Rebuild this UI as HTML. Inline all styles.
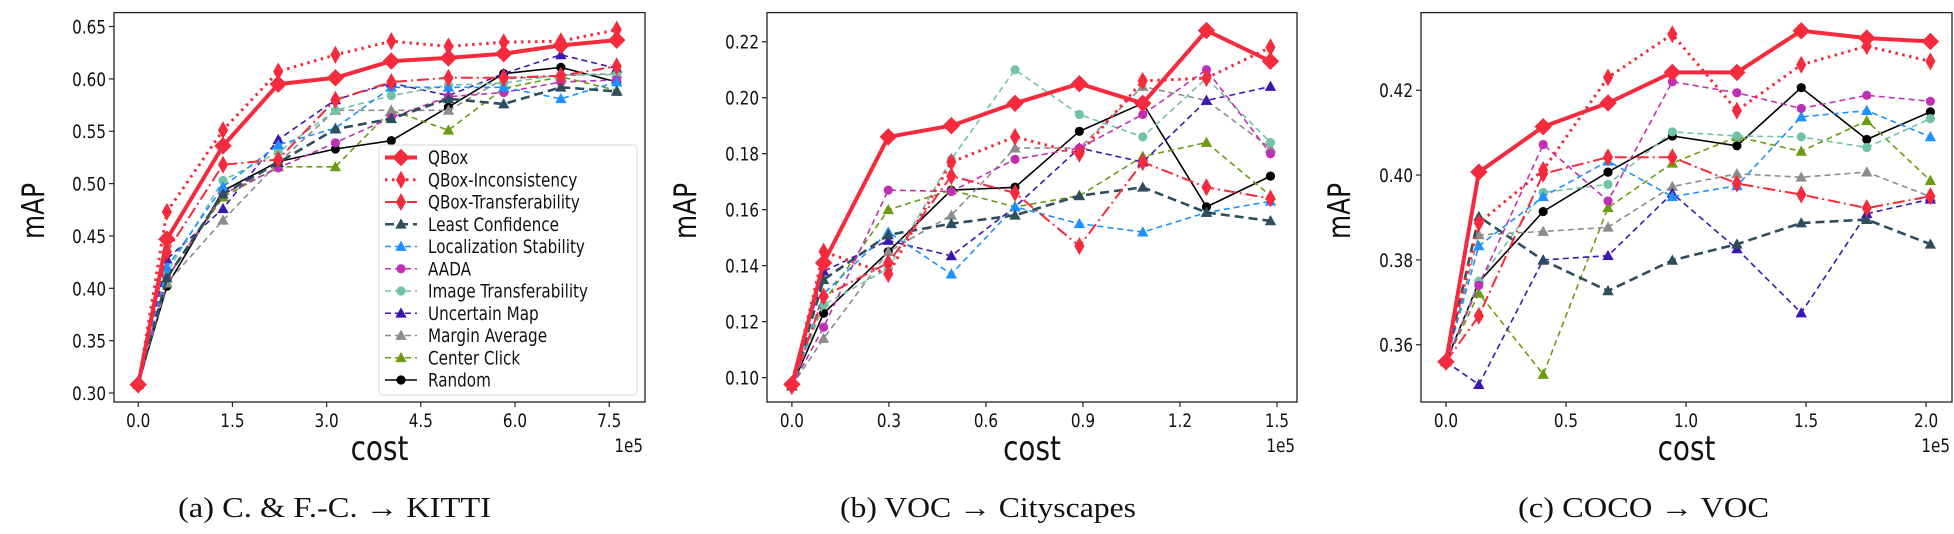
<!DOCTYPE html>
<html><head><meta charset="utf-8"><style>
html,body{margin:0;padding:0;background:#fff;}
svg{display:block;}
</style></head><body>
<svg id="fig" width="1954" height="534" viewBox="0 0 1954 534" xmlns="http://www.w3.org/2000/svg"></svg>
<script>
// ---- data (x in units of 1e5 cost) ----
const kittiX = [0, 0.456, 1.35, 2.23, 3.14, 4.03, 4.94, 5.82, 6.73, 7.62];
const kittiQBox = [0.308,0.447,0.536,0.595,0.601,0.617,0.620,0.624,0.632,0.637];
const kittiInconsistency = [0.308,0.473,0.551,0.607,0.623,0.636,0.631,0.635,0.636,0.647];
const kittiTransferability = [0.308,0.435,0.518,0.523,0.580,0.597,0.601,0.601,0.603,0.612];
const kittiLeastConf = [0.308,0.41,0.49,0.52,0.552,0.562,0.581,0.576,0.592,0.588];
const kittiLocStab = [0.308,0.42,0.497,0.537,0.553,0.592,0.592,0.592,0.581,0.597];
const kittiAADA = [0.308,0.41,0.49,0.515,0.539,0.563,0.583,0.587,0.597,0.599];
const kittiImgTrans = [0.308,0.415,0.503,0.53,0.570,0.584,0.594,0.596,0.604,0.604];
const kittiUncMap = [0.308,0.428,0.476,0.542,0.580,0.596,0.584,0.605,0.623,0.610];
const kittiMargin = [0.308,0.405,0.465,0.52,0.570,0.570,0.570,0.600,0.603,0.605];
const kittiCenter = [0.308,0.41,0.487,0.516,0.516,0.570,0.551,0.591,0.602,0.589];
const kittiRandom = [0.308,0.402,0.493,0.521,0.533,0.541,0.573,0.605,0.611,0.597];

const cityX = [0, 0.098, 0.298, 0.493, 0.690, 0.889, 1.085, 1.282, 1.480];
const cityQBox = [0.0976,0.141,0.186,0.190,0.198,0.205,0.198,0.224,0.213];
const cityInconsistency = [0.097,0.145,0.137,0.177,0.186,0.180,0.206,0.207,0.218];
const cityTransferability = [0.097,0.129,0.141,0.172,0.166,0.147,0.177,0.168,0.164];
const cityLeastConf = [0.097,0.135,0.151,0.155,0.158,0.165,0.168,0.159,0.156];
const cityLocStab = [0.097,0.130,0.152,0.137,0.161,0.155,0.152,0.159,0.163];
const cityAADA = [0.097,0.118,0.167,0.1665,0.178,0.182,0.194,0.210,0.180];
const cityImgTrans = [0.097,0.126,0.139,0.178,0.210,0.194,0.186,0.207,0.184];
const cityUncMap = [0.097,0.138,0.149,0.1435,0.161,0.182,0.177,0.199,0.204];
const cityMargin = [0.097,0.114,0.145,0.158,0.182,0.182,0.204,0.199,0.182];
const cityCenter = [0.097,0.127,0.160,0.167,0.161,0.165,0.179,0.184,0.165];
const cityRandom = [0.097,0.123,0.145,0.167,0.168,0.188,0.198,0.161,0.172];

const vocX = [0, 0.137, 0.405, 0.675, 0.943, 1.212, 1.48, 1.753, 2.018];
const vocQBox = [0.356,0.4007,0.4114,0.417,0.4242,0.4242,0.434,0.4323,0.4315];
const vocInconsistency = [0.356,0.3887,0.4012,0.423,0.4332,0.4152,0.426,0.4304,0.4268];
const vocTransferability = [0.356,0.3668,0.4003,0.4042,0.4042,0.398,0.3954,0.3922,0.395];
const vocLeastConf = [0.356,0.3902,0.3799,0.3727,0.3799,0.3837,0.3887,0.3895,0.3837];
const vocLocStab = [0.356,0.3833,0.3949,0.4033,0.3949,0.3975,0.4137,0.4152,0.409];
const vocAADA = [0.356,0.374,0.4072,0.3939,0.422,0.4194,0.4157,0.4188,0.4174];
const vocImgTrans = [0.356,0.375,0.3959,0.3978,0.4102,0.4092,0.409,0.4065,0.4133];
const vocUncMap = [0.356,0.3506,0.38,0.381,0.3957,0.3826,0.3675,0.3909,0.3943];
const vocMargin = [0.356,0.3859,0.3867,0.3877,0.3973,0.4003,0.3995,0.4007,0.3949];
const vocCenter = [0.356,0.3721,0.353,0.3923,0.4028,0.409,0.4056,0.4128,0.3987];
const vocRandom = [0.356,0.3748,0.3914,0.4007,0.4092,0.4069,0.4206,0.4084,0.4149];

const kittiXTicks = [0, 1.5, 3.0, 4.5, 6.0, 7.5];
const kittiYTicks = [0.30,0.35,0.40,0.45,0.50,0.55,0.60,0.65];
const cityXTicks = [0, 0.3, 0.6, 0.9, 1.2, 1.5];
const cityYTicks = [0.10,0.12,0.14,0.16,0.18,0.20,0.22];
const vocXTicks = [0, 0.5, 1.0, 1.5, 2.0];
const vocYTicks = [0.36,0.38,0.40,0.42];

const seriesNames = ["QBox","QBox-Inconsistency","QBox-Transferability","Least Confidence","Localization  Stability","AADA","Image Transferability","Uncertain Map","Margin Average","Center Click","Random"];

// ---- styles ----
const RED = "#f52a3c";
const STY = [
  {c:RED,w:4,dash:"",m:"D"},
  {c:RED,w:3,dash:"2.5,4.5",m:"d"},
  {c:RED,w:2,dash:"12,4,2,4",m:"d"},
  {c:"#2e4e5e",w:2.6,dash:"9,5",m:"^"},
  {c:"#1e90ff",w:1.6,dash:"6,4",m:"^"},
  {c:"#c030b4",w:1.6,dash:"6,4",m:"o"},
  {c:"#70c4a4",w:1.6,dash:"6,4",m:"o"},
  {c:"#3c16b0",w:1.6,dash:"6,4",m:"^"},
  {c:"#8c8c8c",w:1.6,dash:"6,4",m:"^"},
  {c:"#6a9c12",w:1.6,dash:"6,4",m:"^"},
  {c:"#000000",w:1.6,dash:"",m:"o"}
];
const NS = "http://www.w3.org/2000/svg";
const svg = document.getElementById("fig");
function el(tag, attrs, parent){
  const e = document.createElementNS(NS, tag);
  for (const k in attrs) e.setAttribute(k, attrs[k]);
  (parent||svg).appendChild(e);
  return e;
}
function txt(parent, x, y, s, size, anchor, sx, fam, rot){
  const t = document.createElementNS(NS, "text");
  t.setAttribute("x", 0); t.setAttribute("y", 0);
  t.setAttribute("font-size", size);
  t.setAttribute("font-family", fam || '"DejaVu Sans", "Liberation Sans", sans-serif');
  t.setAttribute("text-anchor", anchor);
  t.setAttribute("fill", "#111");
  t.setAttribute("transform", "translate(" + x + "," + y + ")" + (rot ? " rotate(" + rot + ")" : "") + " scale(" + sx + ",1)");
  t.textContent = s;
  parent.appendChild(t);
  return t;
}
function marker(g, m, x, y, c){
  let e;
  if (m === "D") e = el("path", {d:`M${x-8},${y} L${x},${y-8} L${x+8},${y} L${x},${y+8} Z`, fill:c, stroke:c, "stroke-width":1}, g);
  else if (m === "d") e = el("path", {d:`M${x-4.5},${y} L${x},${y-8} L${x+4.5},${y} L${x},${y+8} Z`, fill:c, stroke:c, "stroke-width":1}, g);
  else if (m === "^") e = el("path", {d:`M${x-5},${y+4} L${x},${y-5} L${x+5},${y+4} Z`, fill:c, stroke:c, "stroke-width":0.8}, g);
  else e = el("circle", {cx:x, cy:y, r:4.3, fill:c, stroke:c, "stroke-width":0.6}, g);
  return e;
}

function drawChart(cfg){
  const g = el("g", {});
  
  
  const B = cfg.box;
  const sx = v => B.l + (v - cfg.xlim[0]) / (cfg.xlim[1] - cfg.xlim[0]) * (B.r - B.l);
  const sy = v => B.b - (v - cfg.ylim[0]) / (cfg.ylim[1] - cfg.ylim[0]) * (B.b - B.t);
  const clipId = "clip-" + cfg.name;
  const cp = el("clipPath", {id:clipId}, g);
  el("rect", {x:B.l, y:B.t, width:B.r-B.l, height:B.b-B.t}, cp);
  const sg = el("g", {"clip-path":"url(#"+clipId+")"}, g);
  for (let i = cfg.series.length - 1; i >= 0; i--){
    const arr = cfg.series[i], st = STY[i];
    const pg = el("g", {}, sg);
    
    
    const pts = arr.map((v,k) => sx(cfg.x[k]).toFixed(1) + "," + sy(v).toFixed(1)).join(" ");
    const pl = el("polyline", {points:pts, fill:"none", stroke:st.c, "stroke-width":st.w, "stroke-dasharray":st.dash, "stroke-linejoin":"round"}, pg);
    
    
    arr.forEach((v,k) => {
      const mk = marker(pg, st.m, sx(cfg.x[k]), sy(v), st.c);
      
      
    });
  }
  const fr = el("rect", {x:B.l, y:B.t, width:B.r-B.l, height:B.b-B.t, fill:"none", stroke:"#222", "stroke-width":1.3}, g);
  
  
  cfg.xticks.forEach(v => {
    const x = sx(v);
    el("line", {x1:x, y1:B.b, x2:x, y2:B.b+5, stroke:"#222", "stroke-width":1.2}, g);
    const t = txt(g, x, 427, v.toFixed(1), 19, "middle", 0.8);
    
    
  });
  cfg.yticks.forEach(v => {
    const y = sy(v);
    el("line", {x1:B.l-5, y1:y, x2:B.l, y2:y, stroke:"#222", "stroke-width":1.2}, g);
    const t = txt(g, B.l-8, y+7, v.toFixed(2), 19, "end", 0.8);
    
    
  });
  const off = txt(g, B.r - 2, 452, "1e5", 19, "end", 0.8);
  
  
  const xt = txt(g, (B.l+B.r)/2, 460, "cost", 34, "middle", 0.82);
  
  
  const yt = txt(g, cfg.ylabX, 211, "mAP", 31, "middle", 0.8, null, -90);
  
  
  const cap = txt(g, cfg.cap[0], 517, cfg.caption, 28, "start", 1, '"Liberation Serif", serif');
  cap.setAttribute("textLength", cfg.cap[1]-cfg.cap[0]);
  cap.setAttribute("lengthAdjust", "spacingAndGlyphs");
  cap.setAttribute("transform", "translate(" + cfg.cap[0] + ",517)");
  
  
  if (cfg.legend){
    const lg = el("g", {}, g);
    
    
    el("rect", {x:379, y:145, width:258, height:250, rx:3, fill:"#fff", "fill-opacity":0.85, stroke:"#d6d6d6", "stroke-width":1}, lg);
    seriesNames.forEach((n,i) => {
      const st = STY[i], y = 157.5 + i*22.25;
      const e = el("g", {}, lg);
      
      
      el("line", {x1:385, y1:y, x2:417, y2:y, stroke:st.c, "stroke-width":st.w, "stroke-dasharray":st.dash}, e);
      marker(e, st.m, 401, y, st.c);
      txt(e, 428, y+6.5, n, 19, "start", 0.8);
    });
  }
}

drawChart({name:"chart-kitti", box:{l:114,r:645,t:12.6,b:402}, xlim:[-0.386,8.07], ylim:[0.2914,0.6633],
  x:kittiX, xticks:kittiXTicks, yticks:kittiYTicks, ylabX:44, legend:true,
  series:[kittiQBox,kittiInconsistency,kittiTransferability,kittiLeastConf,kittiLocStab,kittiAADA,kittiImgTrans,kittiUncMap,kittiMargin,kittiCenter,kittiRandom],
  caption:"(a) C. & F.-C. \u2192 KITTI", cap:[178,491]});
drawChart({name:"chart-cityscapes", box:{l:767,r:1297,t:12.6,b:402}, xlim:[-0.077,1.562], ylim:[0.0913,0.2304],
  x:cityX, xticks:cityXTicks, yticks:cityYTicks, ylabX:696,
  series:[cityQBox,cityInconsistency,cityTransferability,cityLeastConf,cityLocStab,cityAADA,cityImgTrans,cityUncMap,cityMargin,cityCenter,cityRandom],
  caption:"(b) VOC \u2192 Cityscapes", cap:[840,1136]});
drawChart({name:"chart-voc", box:{l:1421,r:1952,t:12.6,b:402}, xlim:[-0.104,2.108], ylim:[0.3465,0.4383],
  x:vocX, xticks:vocXTicks, yticks:vocYTicks, ylabX:1350,
  series:[vocQBox,vocInconsistency,vocTransferability,vocLeastConf,vocLocStab,vocAADA,vocImgTrans,vocUncMap,vocMargin,vocCenter,vocRandom],
  caption:"(c) COCO \u2192 VOC", cap:[1518,1769]});
</script>
</body></html>
